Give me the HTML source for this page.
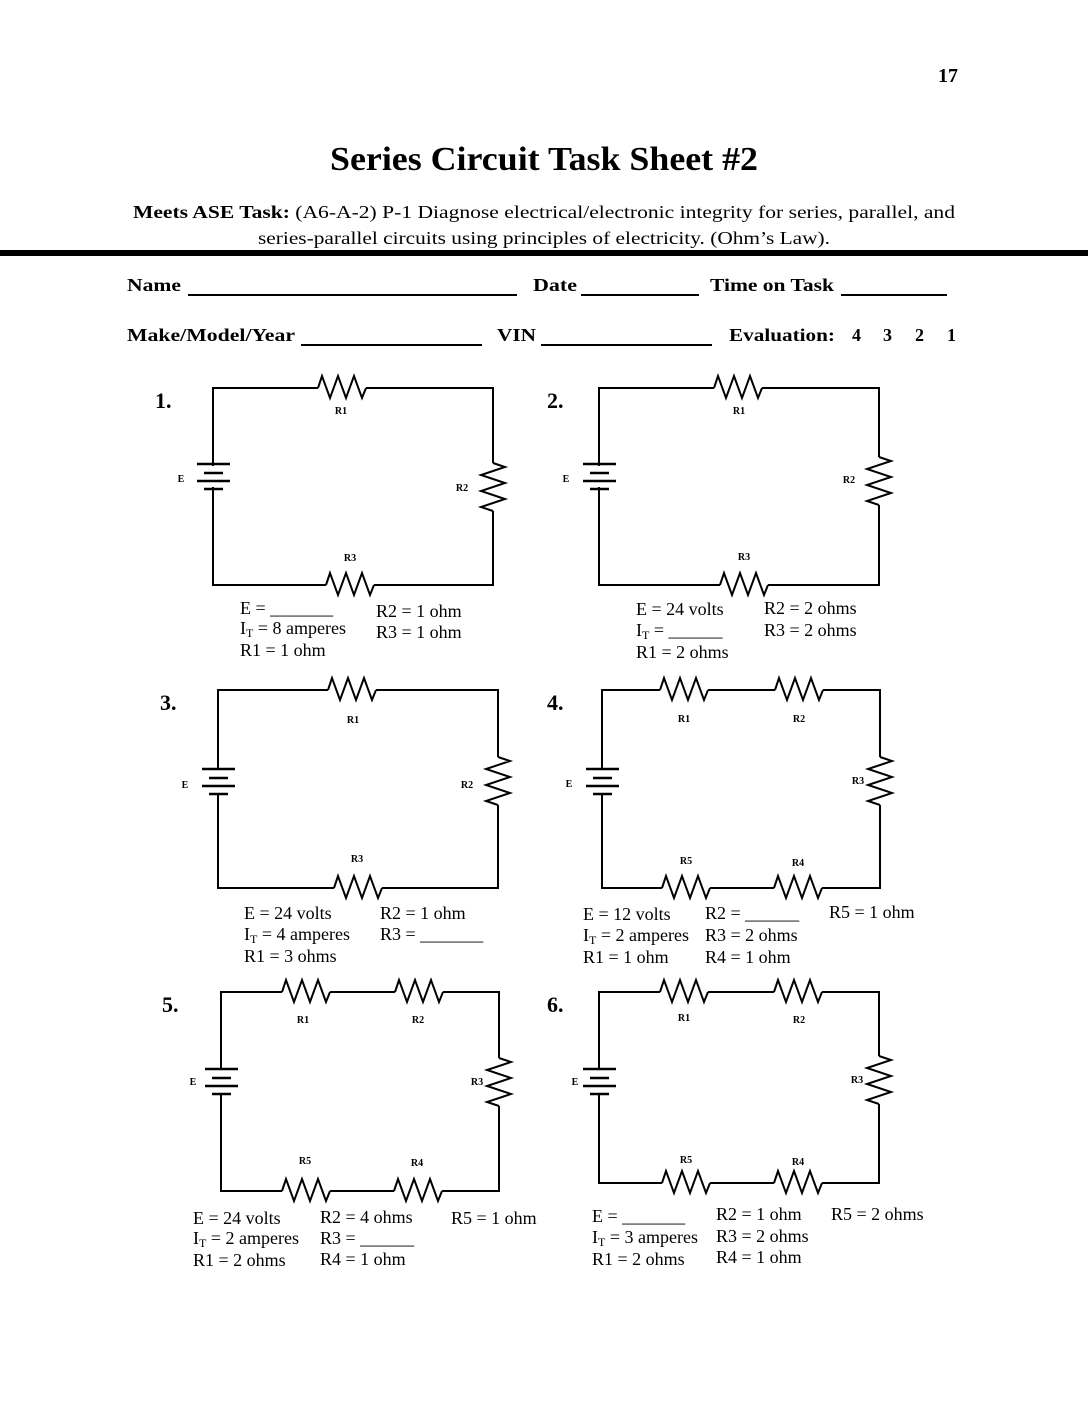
<!DOCTYPE html>
<html><head><meta charset="utf-8"><style>html,body{margin:0;padding:0;background:#fff}svg{display:block}</style></head>
<body>
<svg width="1088" height="1408" viewBox="0 0 1088 1408" xmlns="http://www.w3.org/2000/svg" font-family="'Liberation Serif', serif" fill="#000">
<g font-weight="bold">
<text x="938" y="82" font-size="20">17</text>
<text x="330" y="170" font-size="34" textLength="428" lengthAdjust="spacingAndGlyphs">Series Circuit Task Sheet #2</text>
</g>
<text x="133" y="218" font-size="18" textLength="822" lengthAdjust="spacingAndGlyphs"><tspan font-weight="bold">Meets ASE Task:</tspan> (A6-A-2) P-1  Diagnose electrical/electronic integrity for series, parallel, and</text>
<text x="258" y="244" font-size="18" textLength="572" lengthAdjust="spacingAndGlyphs">series-parallel circuits using principles of electricity. (Ohm’s Law).</text>
<rect x="0" y="250" width="1088" height="6"/>
<g font-weight="bold" font-size="18">
<text x="127" y="291" textLength="54" lengthAdjust="spacingAndGlyphs">Name</text>
<text x="533" y="291" textLength="44" lengthAdjust="spacingAndGlyphs">Date</text>
<text x="710" y="291" textLength="124" lengthAdjust="spacingAndGlyphs">Time on Task</text>
<text x="127" y="341" textLength="168" lengthAdjust="spacingAndGlyphs">Make/Model/Year</text>
<text x="497" y="341" textLength="39" lengthAdjust="spacingAndGlyphs">VIN</text>
<text x="729" y="341" textLength="106" lengthAdjust="spacingAndGlyphs">Evaluation:</text>
<text x="852" y="341">4</text><text x="883" y="341">3</text><text x="915" y="341">2</text><text x="947" y="341">1</text>
</g>
<g stroke="#000" stroke-width="2">
<line x1="188" y1="295" x2="517" y2="295"/><line x1="581" y1="295" x2="699" y2="295"/><line x1="841" y1="295" x2="947" y2="295"/>
<line x1="301" y1="345" x2="482" y2="345"/><line x1="541" y1="345" x2="712" y2="345"/>
</g>

<g fill="none" stroke="#000" stroke-width="2">
<rect x="213" y="388" width="280" height="197"/>
<rect x="599" y="388" width="280" height="197"/>
<rect x="218" y="690" width="280" height="198"/>
<rect x="602" y="690" width="278" height="198"/>
<rect x="221" y="992" width="278" height="199"/>
<rect x="599" y="992" width="280" height="191"/>
</g>
<g stroke="#fff" stroke-width="4">
<line x1="318" y1="388" x2="366" y2="388"/><line x1="493" y1="463" x2="493" y2="511"/><line x1="326" y1="585" x2="374" y2="585"/><line x1="213" y1="466" x2="213" y2="487"/>
<line x1="714" y1="388" x2="762" y2="388"/><line x1="879" y1="457" x2="879" y2="505"/><line x1="720" y1="585" x2="768" y2="585"/><line x1="599" y1="466" x2="599" y2="487"/>
<line x1="328" y1="690" x2="376" y2="690"/><line x1="498" y1="757" x2="498" y2="805"/><line x1="334" y1="888" x2="382" y2="888"/><line x1="218" y1="770" x2="218" y2="793"/>
<line x1="660" y1="690" x2="708" y2="690"/><line x1="775" y1="690" x2="823" y2="690"/><line x1="880" y1="757" x2="880" y2="805"/><line x1="662" y1="888" x2="710" y2="888"/><line x1="774" y1="888" x2="822" y2="888"/><line x1="602" y1="770" x2="602" y2="793"/>
<line x1="282" y1="992" x2="330" y2="992"/><line x1="395" y1="992" x2="443" y2="992"/><line x1="499" y1="1058" x2="499" y2="1106"/><line x1="282" y1="1191" x2="330" y2="1191"/><line x1="394" y1="1191" x2="442" y2="1191"/><line x1="221" y1="1070" x2="221" y2="1093"/>
<line x1="660" y1="992" x2="708" y2="992"/><line x1="774" y1="992" x2="822" y2="992"/><line x1="879" y1="1056" x2="879" y2="1104"/><line x1="662" y1="1183" x2="710" y2="1183"/><line x1="774" y1="1183" x2="822" y2="1183"/><line x1="599" y1="1070" x2="599" y2="1093"/>
</g>
<g fill="none" stroke="#000" stroke-width="2" stroke-linejoin="miter">
<path d="M318 388 l4 -12 l8 22 l8 -22 l8 22 l8 -22 l8 22 l4 -10"/>
<path d="M493 463 l12 4 l-24 8 l24 8 l-24 8 l24 8 l-24 8 l12 4"/>
<path d="M326 585 l4 -12 l8 22 l8 -22 l8 22 l8 -22 l8 22 l4 -10"/>
<path d="M714 388 l4 -12 l8 22 l8 -22 l8 22 l8 -22 l8 22 l4 -10"/>
<path d="M879 457 l12 4 l-24 8 l24 8 l-24 8 l24 8 l-24 8 l12 4"/>
<path d="M720 585 l4 -12 l8 22 l8 -22 l8 22 l8 -22 l8 22 l4 -10"/>
<path d="M328 690 l4 -12 l8 22 l8 -22 l8 22 l8 -22 l8 22 l4 -10"/>
<path d="M498 757 l12 4 l-24 8 l24 8 l-24 8 l24 8 l-24 8 l12 4"/>
<path d="M334 888 l4 -12 l8 22 l8 -22 l8 22 l8 -22 l8 22 l4 -10"/>
<path d="M660 690 l4 -12 l8 22 l8 -22 l8 22 l8 -22 l8 22 l4 -10"/>
<path d="M775 690 l4 -12 l8 22 l8 -22 l8 22 l8 -22 l8 22 l4 -10"/>
<path d="M880 757 l12 4 l-24 8 l24 8 l-24 8 l24 8 l-24 8 l12 4"/>
<path d="M662 888 l4 -12 l8 22 l8 -22 l8 22 l8 -22 l8 22 l4 -10"/>
<path d="M774 888 l4 -12 l8 22 l8 -22 l8 22 l8 -22 l8 22 l4 -10"/>
<path d="M282 992 l4 -12 l8 22 l8 -22 l8 22 l8 -22 l8 22 l4 -10"/>
<path d="M395 992 l4 -12 l8 22 l8 -22 l8 22 l8 -22 l8 22 l4 -10"/>
<path d="M499 1058 l12 4 l-24 8 l24 8 l-24 8 l24 8 l-24 8 l12 4"/>
<path d="M282 1191 l4 -12 l8 22 l8 -22 l8 22 l8 -22 l8 22 l4 -10"/>
<path d="M394 1191 l4 -12 l8 22 l8 -22 l8 22 l8 -22 l8 22 l4 -10"/>
<path d="M660 992 l4 -12 l8 22 l8 -22 l8 22 l8 -22 l8 22 l4 -10"/>
<path d="M774 992 l4 -12 l8 22 l8 -22 l8 22 l8 -22 l8 22 l4 -10"/>
<path d="M879 1056 l12 4 l-24 8 l24 8 l-24 8 l24 8 l-24 8 l12 4"/>
<path d="M662 1183 l4 -12 l8 22 l8 -22 l8 22 l8 -22 l8 22 l4 -10"/>
<path d="M774 1183 l4 -12 l8 22 l8 -22 l8 22 l8 -22 l8 22 l4 -10"/>
</g>
<g stroke="#000" stroke-width="2.5">
<line x1="197" y1="464" x2="230" y2="464"/><line x1="204" y1="473" x2="223" y2="473"/><line x1="197" y1="481" x2="230" y2="481"/><line x1="204" y1="489" x2="223" y2="489"/>
<line x1="583" y1="464" x2="616" y2="464"/><line x1="590" y1="473" x2="609" y2="473"/><line x1="583" y1="481" x2="616" y2="481"/><line x1="590" y1="489" x2="609" y2="489"/>
<line x1="202" y1="769" x2="235" y2="769"/><line x1="209" y1="778" x2="228" y2="778"/><line x1="202" y1="786" x2="235" y2="786"/><line x1="209" y1="794" x2="228" y2="794"/>
<line x1="586" y1="769" x2="619" y2="769"/><line x1="593" y1="778" x2="612" y2="778"/><line x1="586" y1="786" x2="619" y2="786"/><line x1="593" y1="794" x2="612" y2="794"/>
<line x1="205" y1="1069" x2="238" y2="1069"/><line x1="212" y1="1078" x2="231" y2="1078"/><line x1="205" y1="1086" x2="238" y2="1086"/><line x1="212" y1="1094" x2="231" y2="1094"/>
<line x1="583" y1="1069" x2="616" y2="1069"/><line x1="590" y1="1078" x2="609" y2="1078"/><line x1="583" y1="1086" x2="616" y2="1086"/><line x1="590" y1="1094" x2="609" y2="1094"/>
</g>
<g font-weight="bold" font-size="22">
<text x="155" y="408">1.</text><text x="547" y="408">2.</text>
<text x="160" y="710">3.</text><text x="547" y="710">4.</text>
<text x="162" y="1012">5.</text><text x="547" y="1012">6.</text>
</g>
<g font-weight="bold" font-size="10" text-anchor="middle">
<text x="341" y="414">R1</text><text x="181" y="482">E</text><text x="462" y="491">R2</text><text x="350" y="561">R3</text>
<text x="739" y="414">R1</text><text x="566" y="482">E</text><text x="849" y="483">R2</text><text x="744" y="560">R3</text>
<text x="353" y="723">R1</text><text x="185" y="788">E</text><text x="467" y="788">R2</text><text x="357" y="862">R3</text>
<text x="684" y="722">R1</text><text x="799" y="722">R2</text><text x="858" y="784">R3</text><text x="569" y="787">E</text><text x="686" y="864">R5</text><text x="798" y="866">R4</text>
<text x="303" y="1023">R1</text><text x="418" y="1023">R2</text><text x="477" y="1085">R3</text><text x="193" y="1085">E</text><text x="305" y="1164">R5</text><text x="417" y="1166">R4</text>
<text x="684" y="1021">R1</text><text x="799" y="1023">R2</text><text x="857" y="1083">R3</text><text x="575" y="1085">E</text><text x="686" y="1163">R5</text><text x="798" y="1165">R4</text>
</g>
<g font-size="18">
<text x="240" y="614">E = _______</text>
<text x="240" y="634">I<tspan font-size="12" dy="3">T</tspan><tspan dy="-3"> = 8 amperes</tspan></text>
<text x="240" y="656">R1 = 1 ohm</text>
<text x="376" y="617">R2 = 1 ohm</text>
<text x="376" y="638">R3 = 1 ohm</text>

<text x="636" y="615">E = 24 volts</text>
<text x="636" y="636">I<tspan font-size="12" dy="3">T</tspan><tspan dy="-3"> = ______</tspan></text>
<text x="636" y="658">R1 = 2 ohms</text>
<text x="764" y="614">R2 = 2 ohms</text>
<text x="764" y="636">R3 = 2 ohms</text>

<text x="244" y="919">E = 24 volts</text>
<text x="244" y="940">I<tspan font-size="12" dy="3">T</tspan><tspan dy="-3"> = 4 amperes</tspan></text>
<text x="244" y="962">R1 = 3 ohms</text>
<text x="380" y="919">R2 = 1 ohm</text>
<text x="380" y="940">R3 = _______</text>

<text x="583" y="920">E = 12 volts</text>
<text x="583" y="941">I<tspan font-size="12" dy="3">T</tspan><tspan dy="-3"> = 2 amperes</tspan></text>
<text x="583" y="963">R1 = 1 ohm</text>
<text x="705" y="919">R2 = ______</text>
<text x="705" y="941">R3 = 2 ohms</text>
<text x="705" y="963">R4 = 1 ohm</text>
<text x="829" y="918">R5 = 1 ohm</text>

<text x="193" y="1224">E = 24 volts</text>
<text x="193" y="1244">I<tspan font-size="12" dy="3">T</tspan><tspan dy="-3"> =  2 amperes</tspan></text>
<text x="193" y="1266">R1 = 2 ohms</text>
<text x="320" y="1223">R2 =  4 ohms</text>
<text x="320" y="1244">R3 = ______</text>
<text x="320" y="1265">R4 = 1 ohm</text>
<text x="451" y="1224">R5 = 1 ohm</text>

<text x="592" y="1222">E = _______</text>
<text x="592" y="1243">I<tspan font-size="12" dy="3">T</tspan><tspan dy="-3"> = 3 amperes</tspan></text>
<text x="592" y="1265">R1 = 2 ohms</text>
<text x="716" y="1220">R2 = 1 ohm</text>
<text x="716" y="1242">R3 = 2 ohms</text>
<text x="716" y="1263">R4 = 1 ohm</text>
<text x="831" y="1220">R5 = 2 ohms</text>
</g>
</svg>
</body></html>
